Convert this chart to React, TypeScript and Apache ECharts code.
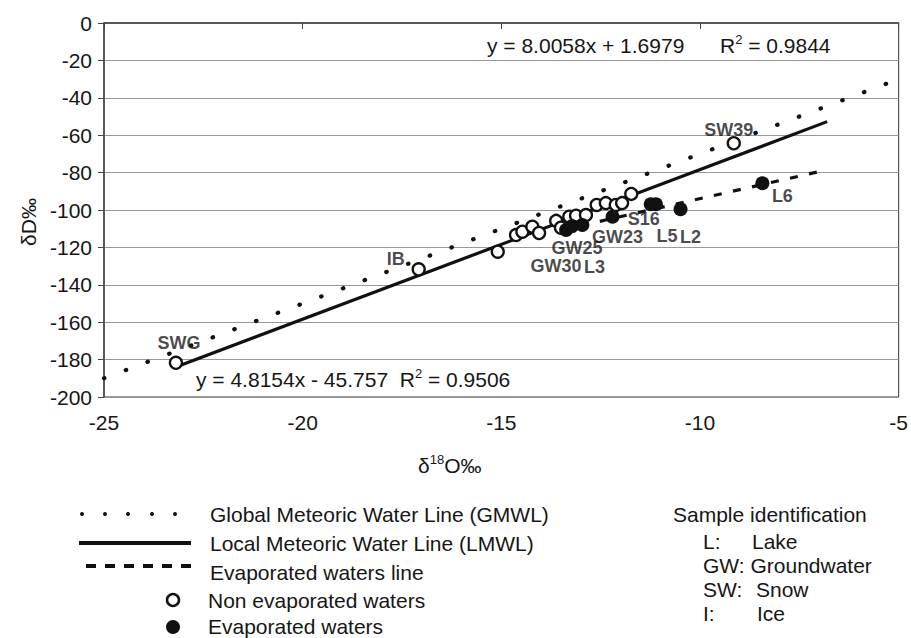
import React, { useEffect, useRef } from "react";
import * as echarts from "echarts";

// Axis ranges / ticks
const xMin = -25, xMax = -5, xStep = 5;
const yMin = -200, yMax = 0, yStep = 20;

// Non evaporated waters (open circles) [δ18O, δD]
const nonEvaporated: [number, number][] = [
  [-23.19, -181.7], [-17.08, -131.7], [-15.09, -122.3], [-14.63, -113.4],
  [-14.47, -111.6], [-14.22, -108.9], [-14.05, -112.3], [-13.62, -105.8],
  [-13.5, -109.5], [-13.29, -103.6], [-13.12, -103.0], [-12.87, -102.7],
  [-12.6, -97.3], [-12.37, -96.3], [-12.12, -97.3], [-11.96, -96.3],
  [-11.73, -91.4], [-9.15, -64.3],
];

// Evaporated waters (filled circles)
const evaporated: [number, number][] = [
  [-13.37, -110.7], [-13.22, -108.6], [-12.96, -108.0], [-12.2, -103.6],
  [-11.24, -96.95], [-11.11, -96.95], [-10.49, -99.6], [-8.43, -85.7],
];

// Lines (end points)
const gmwlX = [-25, -5];
const gmwlY = [-190, -30];
const lmwlX = [-23.19, -6.8];
const lmwlY = [-183.96, -52.74];
const evapX = [-13.0, -6.8];
const evapY = [-108.36, -78.5];

// Sample labels: name, anchor point
const sampleNames = ["SWG", "IB", "SW39", "L6", "L2", "L5", "S16", "GW23", "GW25", "GW30", "L3"];
const sampleX = [-23.19, -17.08, -9.15, -8.43, -10.49, -11.11, -11.24, -12.2, -13.22, -13.37, -12.96];
const sampleY = [-181.7, -131.7, -64.3, -85.7, -99.6, -96.95, -96.95, -103.6, -108.6, -110.7, -108.0];
const labelOffsets: [number, number][] = [
  [3, -20], [-23, -10], [-5, -13], [20, 13], [10, 28], [11, 32], [-7, 15], [5, 20], [5, 22], [-10, 36], [12, 42],
];

const legendLines = [
  "Global Meteoric Water Line (GMWL)",
  "Local Meteoric Water Line (LMWL)",
  "Evaporated waters line",
  "Non evaporated waters",
  "Evaporated waters",
];

const FONT = "Liberation Sans, Arial, sans-serif";
const FS = 21;
const INK = "#161616";

export default function App() {
  const ref = useRef<HTMLDivElement>(null);
  useEffect(() => {
    document.body.style.margin = "0";
    if (!ref.current) return;
    const chart = echarts.init(ref.current, undefined, { renderer: "svg" });
    const zip = (xs: number[], ys: number[]) => xs.map((x, i) => [x, ys[i]]);
    const txt = (x: number, y: number, text: string, extra: any = {}) => ({
      type: "text",
      x,
      y,
      style: { text, font: `${FS}px ${FONT}`, fill: INK, verticalAlign: "middle", align: "left", ...extra },
    });
    const richSup = {
      a: { fontSize: FS, fontFamily: FONT, lineHeight: 25, fill: INK },
      s: { fontSize: 13, fontFamily: FONT, verticalAlign: "top", lineHeight: 13, fill: INK },
    };
    const dots = [82, 105, 128, 152, 175].map((cx) => ({
      type: "circle",
      shape: { cx, cy: 514, r: 2 },
      style: { fill: "#111" },
    }));
    const option: any = {
      animation: false,
      backgroundColor: "#fff",
      grid: { left: 104, right: 11, top: 23, bottom: 241, show: true, borderColor: "#333", borderWidth: 1 },
      xAxis: {
        type: "value",
        min: xMin,
        max: xMax,
        interval: xStep,
        splitLine: { show: false },
        axisLine: { lineStyle: { color: "#444", width: 1.5 } },
        axisTick: { show: true, length: 6, lineStyle: { color: "#444" } },
        axisLabel: { color: INK, fontSize: FS, fontFamily: FONT, margin: 15 },
      },
      yAxis: {
        type: "value",
        min: yMin,
        max: yMax,
        interval: yStep,
        splitLine: { show: true, lineStyle: { color: "#999", width: 1 } },
        axisLine: { show: true, lineStyle: { color: "#444", width: 1.5 } },
        axisTick: { show: true, length: 6, lineStyle: { color: "#444" } },
        axisLabel: { color: INK, fontSize: FS, fontFamily: FONT, margin: 12 },
      },
      series: [
        {
          type: "line",
          data: zip(gmwlX, gmwlY),
          showSymbol: false,
          symbol: "none",
          lineStyle: { color: "#111", width: 4.2, type: [0.5, 22.7], cap: "round" },
          z: 2,
        },
        {
          type: "line",
          data: zip(lmwlX, lmwlY),
          showSymbol: false,
          symbol: "none",
          lineStyle: { color: "#111", width: 3.2 },
          z: 2,
        },
        {
          type: "line",
          data: zip(evapX, evapY),
          showSymbol: false,
          symbol: "none",
          lineStyle: { color: "#111", width: 3.2, type: [8, 11.5] },
          z: 2,
        },
        {
          type: "scatter",
          data: nonEvaporated,
          symbol: "circle",
          symbolSize: 12,
          itemStyle: { color: "#fff", borderColor: "#111", borderWidth: 2.3, opacity: 1 },
          z: 3,
        },
        {
          type: "scatter",
          data: evaporated,
          symbol: "circle",
          symbolSize: 14,
          itemStyle: { color: "#111", opacity: 1 },
          z: 4,
        },
        {
          type: "scatter",
          symbolSize: 0,
          silent: true,
          data: sampleNames.map((n, i) => ({
            name: n,
            value: [sampleX[i], sampleY[i]],
            label: { offset: labelOffsets[i] },
          })),
          label: {
            show: true,
            position: "inside",
            formatter: (p: any) => p.name,
            color: "#1a1a1a",
            fontSize: 18,
            fontWeight: "bold",
            fontFamily: FONT,
          },
          z: 5,
        },
      ],
      graphic: [
        {
          type: "text",
          x: 487,
          y: 45,
          style: {
            text: "y = 8.0058x + 1.6979",
            font: `${FS}px ${FONT}`,
            fill: INK,
            verticalAlign: "middle",
          },
        },
        {
          type: "text",
          x: 720,
          y: 33,
          style: { text: "{a|R}{s|2}{a| = 0.9844}", fill: INK, rich: richSup },
        },
        {
          type: "text",
          x: 196,
          y: 367,
          style: { text: "{a|y = 4.8154x - 45.757  R}{s|2}{a| = 0.9506}", fill: INK, rich: richSup },
        },
        {
          type: "text",
          x: 418,
          y: 453,
          style: { text: "{a|δ}{s|18}{a|O‰}", fill: INK, rich: richSup },
        },
        {
          type: "text",
          x: 28,
          y: 222,
          rotation: Math.PI / 2,
          style: {
            text: "δD‰",
            font: `${FS}px ${FONT}`,
            fill: INK,
            align: "center",
            verticalAlign: "middle",
          },
        },
        ...dots,
        { type: "line", shape: { x1: 79, y1: 543, x2: 191, y2: 543 }, style: { stroke: "#111", lineWidth: 4 } },
        {
          type: "line",
          shape: { x1: 86, y1: 566, x2: 191, y2: 566 },
          style: { stroke: "#111", lineWidth: 4, lineDash: [10, 9] },
        },
        { type: "circle", shape: { cx: 173, cy: 600, r: 6 }, style: { fill: "#fff", stroke: "#111", lineWidth: 2.5 } },
        { type: "circle", shape: { cx: 173, cy: 627, r: 7 }, style: { fill: "#111" } },
        txt(210, 514, legendLines[0]),
        txt(210, 543, legendLines[1]),
        txt(210, 572, legendLines[2]),
        txt(208, 600, legendLines[3]),
        txt(208, 626, legendLines[4]),
        txt(673, 514, "Sample identification"),
        txt(703, 541, "L:"),
        txt(752, 541, "Lake"),
        txt(703, 565, "GW: Groundwater"),
        txt(703, 589, "SW:"),
        txt(756, 589, "Snow"),
        txt(703, 613, "I:"),
        txt(757, 613, "Ice"),
      ],
    };
    chart.setOption(option);
    return () => chart.dispose();
  }, []);
  return <div ref={ref} style={{ width: 911, height: 638 }} />;
}
